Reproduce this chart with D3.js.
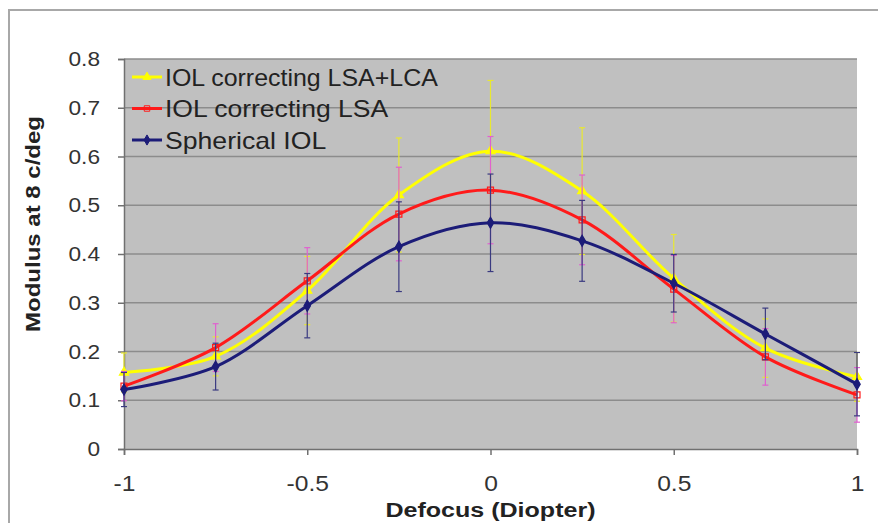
<!DOCTYPE html>
<html>
<head>
<meta charset="utf-8">
<script src="https://cdn.jsdelivr.net/npm/d3@7"></script>
<style>
body { margin: 0; background: #fff; }
text { font-family: "Liberation Sans", Arial, sans-serif; }
</style>
</head>
<body>
<div id="chart-area"></div>
<script>
const svgWidth = 878,
	svgHeight = 523;
const margin = {left: 124, right: 21, top: 59, bottom: 74};

const areaWidth = svgWidth - margin.left - margin.right;
const areaHeight = svgHeight - margin.top - margin.bottom;

// data
const defocus = [-1, -0.75, -0.5, -0.25, 0, 0.25, 0.5, 0.75, 1];
const seriesNames = ["IOL correcting LSA+LCA", "IOL correcting LSA", "Spherical IOL"];
const lsaLcaValues = [0.157, 0.19, 0.325, 0.521, 0.611, 0.529, 0.35, 0.207, 0.148];
const lsaLcaErrors = [0.04, 0.04, 0.07, 0.117, 0.145, 0.13, 0.09, 0.06, 0.05];
const lsaValues = [0.129, 0.208, 0.345, 0.482, 0.531, 0.47, 0.328, 0.189, 0.111];
const lsaErrors = [0.03, 0.049, 0.068, 0.096, 0.11, 0.092, 0.069, 0.058, 0.056];
const sphericalValues = [0.122, 0.169, 0.294, 0.415, 0.464, 0.427, 0.34, 0.236, 0.133];
const sphericalErrors = [0.035, 0.048, 0.066, 0.092, 0.1, 0.083, 0.059, 0.053, 0.065];
const yTicks = [0, 0.1, 0.2, 0.3, 0.4, 0.5, 0.6, 0.7, 0.8];
const xTicks = [-1, -0.5, 0, 0.5, 1];

const series = [
	{name: seriesNames[0], values: lsaLcaValues, errors: lsaLcaErrors, color: "#ffff00", errColor: "#e8e830", marker: "triangle"},
	{name: seriesNames[1], values: lsaValues, errors: lsaErrors, color: "#ff1a1a", errColor: "#e060d0", marker: "square"},
	{name: seriesNames[2], values: sphericalValues, errors: sphericalErrors, color: "#1c1c78", errColor: "#3a3a80", marker: "diamond"}
];

const svg = d3.select("#chart-area")
	.append("svg")
	.attr("width", svgWidth)
	.attr("height", svgHeight);

// outer frame
svg.append("path")
	.attr("d", `M9,${svgHeight} V10 H${svgWidth}`)
	.attr("fill", "none")
	.attr("stroke", "#a8a8a8")
	.attr("stroke-width", 2);

const area = svg.append("g")
	.attr("transform", `translate(${margin.left}, ${margin.top})`);

const x = d3.scaleLinear().domain([-1, 1]).range([0, areaWidth]);
const y = d3.scaleLinear().domain([0, 0.8]).range([areaHeight, 0]);

area.append("rect")
	.attr("width", areaWidth)
	.attr("height", areaHeight)
	.attr("fill", "#c0c0c0");

// gridlines
area.append("g")
	.selectAll("line")
	.data(yTicks.filter(d => d > 0))
	.join("line")
	.attr("x1", 0)
	.attr("x2", areaWidth)
	.attr("y1", d => y(d))
	.attr("y2", d => y(d))
	.attr("stroke", "#8c8c8c")
	.attr("stroke-width", 1.5);

const yAxisCall = d3.axisLeft(y)
	.tickValues(yTicks)
	.tickSize(6)
	.tickPadding(18)
	.tickFormat(d => d === 0 ? "0" : d3.format(".1f")(d));
const xAxisCall = d3.axisBottom(x)
	.tickValues(xTicks)
	.tickSize(6)
	.tickPadding(20)
	.tickFormat(d => String(d));

const yAxisGroup = area.append("g").attr("class", "y axis").call(yAxisCall);
const xAxisGroup = area.append("g").attr("class", "x axis")
	.attr("transform", `translate(0, ${areaHeight})`)
	.call(xAxisCall);

[yAxisGroup, xAxisGroup].forEach(g => {
	g.select(".domain").attr("stroke", "#707070").attr("stroke-width", 1.5);
	g.selectAll(".tick line").attr("stroke", "#707070").attr("stroke-width", 1.5);
	g.selectAll(".tick text")
		.attr("fill", "#333")
		.attr("font-family", "Liberation Sans, Arial, sans-serif");
});
yAxisGroup.selectAll(".tick text")
	.attr("font-size", "21px")
	.attr("x", null)
	.attr("transform", "translate(-24, 0) scale(1.08, 1)");
xAxisGroup.selectAll(".tick text")
	.attr("font-size", "22px")
	.attr("transform", "scale(1.12, 1)");

// axis labels
area.append("text")
	.attr("x", areaWidth / 2)
	.attr("y", areaHeight + 68)
	.attr("font-size", "20px")
	.attr("font-weight", "bold")
	.attr("fill", "#222")
	.attr("text-anchor", "middle")
	.attr("textLength", 210)
	.attr("lengthAdjust", "spacingAndGlyphs")
	.text("Defocus (Diopter)");

area.append("text")
	.attr("x", -(224 - margin.top))
	.attr("y", 40 - margin.left)
	.attr("font-size", "20px")
	.attr("font-weight", "bold")
	.attr("fill", "#222")
	.attr("text-anchor", "middle")
	.attr("transform", "rotate(-90)")
	.attr("textLength", 216)
	.attr("lengthAdjust", "spacingAndGlyphs")
	.text("Modulus at 8 c/deg");

const line = d3.line()
	.x(d => x(d.x))
	.y(d => y(d.v))
	.curve(d3.curveCatmullRom.alpha(0.5));

function markerPath(type, size) {
	if (type === "square") return d3.symbol(d3.symbolSquare, size)();
	if (type === "diamond") return d3.symbol(d3.symbolDiamond, size)();
	return d3.symbol(d3.symbolTriangle, size)();
}

series.forEach(s => {
	const pts = defocus.map((d, i) => ({x: d, v: s.values[i], e: s.errors[i]}));
	const g = area.append("g");

	// error bars
	const eb = g.selectAll(".err").data(pts).join("g");
	eb.append("line")
		.attr("x1", d => x(d.x)).attr("x2", d => x(d.x))
		.attr("y1", d => y(d.v + d.e)).attr("y2", d => y(d.v - d.e))
		.attr("stroke", s.errColor).attr("stroke-width", 1.2);
	eb.selectAll(".cap")
		.data(d => [d.v + d.e, d.v - d.e].map(v => ({x: d.x, v: v})))
		.join("line")
		.attr("x1", d => x(d.x) - 3).attr("x2", d => x(d.x) + 3)
		.attr("y1", d => y(d.v)).attr("y2", d => y(d.v))
		.attr("stroke", s.errColor).attr("stroke-width", 1.2);

	s.pts = pts;
	s.g = g;
});

series.forEach(s => {
	s.g.append("path")
		.attr("d", line(s.pts))
		.attr("fill", "none")
		.attr("stroke", s.color)
		.attr("stroke-width", 3);
	s.g.selectAll(".mk").data(s.pts).join("path")
		.attr("transform", d => `translate(${x(d.x)}, ${y(d.v)})`)
		.attr("d", markerPath(s.marker, 36))
		.attr("fill", s.marker === "square" ? "none" : s.color)
		.attr("stroke", s.color)
		.attr("stroke-width", 1.2);
});

// legend
const legend = area.append("g").attr("transform", "translate(8, 18)");
series.forEach((s, i) => {
	const row = legend.append("g").attr("transform", `translate(0, ${i * 31.5})`);
	row.append("line")
		.attr("x1", 0).attr("x2", 30)
		.attr("stroke", s.color).attr("stroke-width", 3);
	row.append("path")
		.attr("transform", "translate(15, 0)")
		.attr("d", markerPath(s.marker, 30))
		.attr("fill", s.marker === "square" ? "none" : s.color)
		.attr("stroke", s.color);
	row.append("text")
		.attr("x", 33)
		.attr("y", 8.5)
		.attr("font-size", "24px")
		.attr("fill", "#222")
		.attr("textLength", s.name.length * 12.4)
		.attr("lengthAdjust", "spacingAndGlyphs")
		.text(s.name);
});
</script>
</body>
</html>
